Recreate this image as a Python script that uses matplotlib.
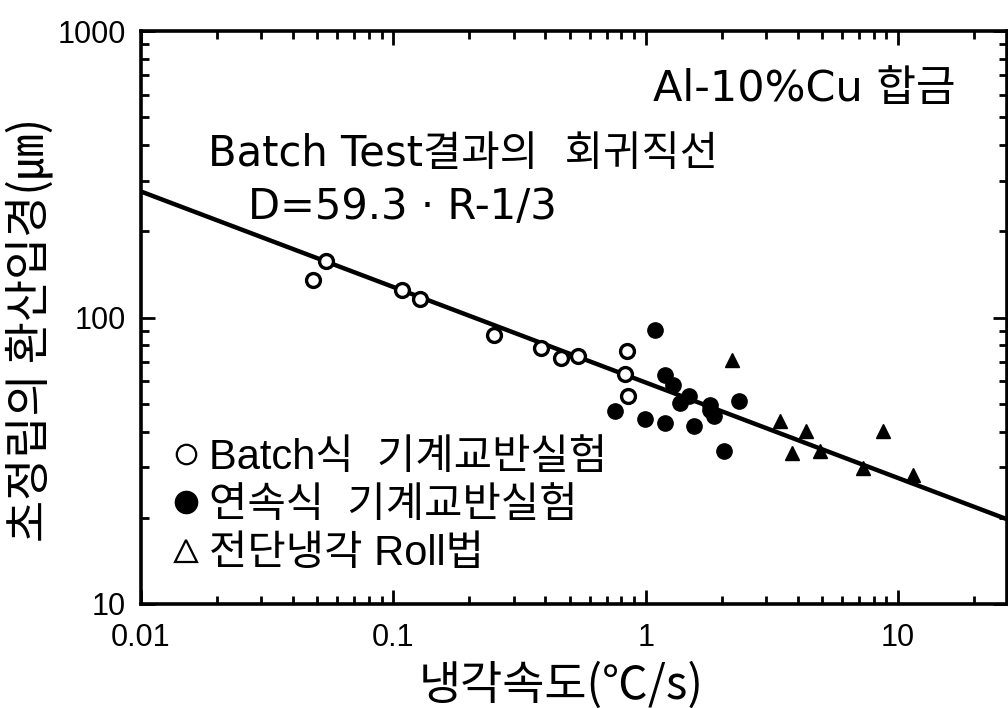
import matplotlib
matplotlib.use("Agg")
import numpy as np
import matplotlib.pyplot as plt
from matplotlib.lines import Line2D
from matplotlib.ticker import FixedLocator, FixedFormatter, LogLocator, NullFormatter

# Latin text in DejaVu, Hangul falls through to Noto CJK KR
TXT = ['DejaVu Sans', 'Noto Sans CJK KR']
plt.rcParams['font.family'] = TXT

# batch type mechanical stirring (open circles)
batch_rate = [0.048, 0.054, 0.108, 0.127, 0.251, 0.385, 0.462, 0.539, 0.84, 0.83, 0.85]
batch_size = [135, 158, 125, 116, 87, 78, 72.4, 73.6, 76.6, 63.6, 53.2]

# continuous mechanical stirring (filled circles)
cont_rate = [1.086, 0.755, 0.99, 1.19, 1.28, 1.19, 1.37, 1.49, 1.56, 1.79, 1.87, 2.35, 2.05, 1.8]
cont_size = [90.8, 47.2, 44.2, 63.1, 58.2, 42.8, 50.3, 53.3, 41.8, 49.5, 45.3, 51.1, 34.2, 47.5]

# shear cooling roll (triangles)
roll_rate = [2.2, 3.41, 4.32, 3.8, 4.9, 8.69, 7.24, 11.5]
roll_size = [71.2, 43.5, 40.1, 33.6, 34.2, 40.1, 29.8, 28.1]

# regression line D = 59.3 * R^(-1/3)
fit_coef = 59.3
fit_exp = -1.0 / 3.0
fit_range = [0.01, 27]

xticks = [0.01, 0.1, 1, 10]
xticklabels = ["0.01", "0.1", "1", "10"]
yticks = [10, 100, 1000]
yticklabels = ["10", "100", "1000"]

legend_labels = ["Batch식  기계교반실험", "연속식  기계교반실험", "전단냉각 Roll법"]

fig = plt.figure(figsize=(10.08, 7.08), dpi=100)
ax = fig.add_axes([0.1399, 0.1469, 0.859, 0.8093])

rr = np.logspace(np.log10(fit_range[0]), np.log10(fit_range[1]), 200)
ax.plot(rr, fit_coef * rr ** fit_exp, color='black', lw=3.2, zorder=2)

ax.plot(batch_rate, batch_size, 'o', ms=10, mfc='white', mec='black', mew=2.4,
        ls='none', zorder=3)
ax.plot(cont_rate, cont_size, 'o', ms=11, mfc='black', mec='black', ls='none', zorder=3)
ax.plot(roll_rate, roll_size, '^', ms=10, mfc='black', mec='black', ls='none', zorder=3)

ax.set_xscale('log')
ax.set_yscale('log')
ax.set_xlim(fit_range[0], fit_range[1])
ax.set_ylim(10, 1000)

ax.xaxis.set_major_locator(FixedLocator(xticks))
ax.xaxis.set_major_formatter(FixedFormatter(xticklabels))
ax.yaxis.set_major_locator(FixedLocator(yticks))
ax.yaxis.set_major_formatter(FixedFormatter(yticklabels))
ax.xaxis.set_minor_locator(LogLocator(base=10, subs=np.arange(2, 10)))
ax.yaxis.set_minor_locator(LogLocator(base=10, subs=np.arange(2, 10)))
ax.xaxis.set_minor_formatter(NullFormatter())
ax.yaxis.set_minor_formatter(NullFormatter())

ax.tick_params(which='both', direction='in', top=True, right=True, width=2, colors='black')
ax.tick_params(which='major', length=10, labelsize=22)
ax.tick_params(axis='x', which='major', pad=14)
ax.tick_params(axis='y', which='major', pad=11)
ax.tick_params(which='minor', length=6)
for lab in ax.get_xticklabels() + ax.get_yticklabels():
    lab.set_family(['Liberation Sans', 'DejaVu Sans'])
for s in ax.spines.values():
    s.set_linewidth(2.6)

ax.set_xlabel("냉각속도(℃/s)", fontsize=33,
              family=['Noto Sans CJK KR', 'DejaVu Sans'])
ax.xaxis.set_label_coords(0.485, -0.1)
ax.set_ylabel("초정립의 환산입경(㎛)", fontsize=33,
              family=['Noto Sans CJK KR', 'DejaVu Sans'])
ax.yaxis.set_label_coords(-0.1, 0.478)

ax.text(0.591, 0.898, "Al-10%Cu 합금", transform=ax.transAxes, fontsize=31,
        va='center', ha='left')
ax.text(0.077, 0.786, "Batch Test결과의  회귀직선", transform=ax.transAxes, fontsize=30,
        va='center', ha='left')
ax.text(0.124, 0.693, "D=59.3 · R-1/3", transform=ax.transAxes, fontsize=30,
        va='center', ha='left')

handles = [
    Line2D([], [], marker='o', ms=14, mfc='white', mec='black', mew=1.6, ls='none'),
    Line2D([], [], marker='o', ms=16, mfc='black', mec='black', ls='none'),
    Line2D([], [], marker='^', ms=16, mfc='white', mec='black', mew=1.6, ls='none'),
]
ax.legend(handles, legend_labels, loc='upper left', bbox_to_anchor=(0.016, 0.312),
          frameon=False, handletextpad=0.1, handlelength=0.9,
          labelspacing=0.2, borderaxespad=0.0, borderpad=0.3,
          prop={'family': ['Liberation Sans', 'Noto Sans CJK KR'], 'size': 30})

fig.savefig("out.png", dpi=100)
